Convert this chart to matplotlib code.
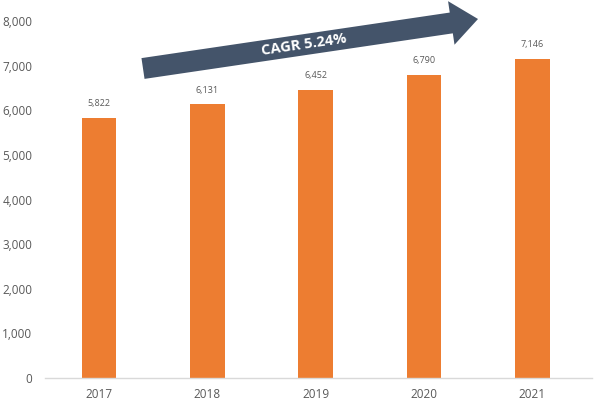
import matplotlib
matplotlib.use("Agg")
import matplotlib.pyplot as plt
from matplotlib.patches import Polygon
from matplotlib.transforms import Affine2D
import numpy as np

years = ["2017", "2018", "2019", "2020", "2021"]
values = [5822, 6131, 6452, 6790, 7146]
yticks = [0, 1000, 2000, 3000, 4000, 5000, 6000, 7000, 8000]
cagr_label = "CAGR 5.24%"

W, H = 599, 411
fig = plt.figure(figsize=(W / 100, H / 100), dpi=100)
ax = fig.add_axes([45 / W, (H - 378) / H, (592 - 45) / W, (378 - 21) / H])

plt.rcParams['font.family'] = ['Open Sans', 'DejaVu Sans']
text_color = "#595959"

x = np.arange(len(years))
ax.bar(x, values, width=0.32, color="#ED7D31", zorder=2)
for xi, v in zip(x, values):
    ax.annotate(f"{v:,}", (xi, v), xytext=(0, 7), textcoords="offset points",
                ha="center", va="bottom", fontsize=6.5, color=text_color,
                family=['Open Sans', 'DejaVu Sans'])

ax.set_xlim(-0.5, 4.55)
ax.set_ylim(0, 8000)
ax.set_xticks(x)
ax.set_xticklabels(years, family=['Open Sans', 'DejaVu Sans'])
ax.set_yticks(yticks)
ax.set_yticklabels([f"{t:,}" for t in yticks], family=['Open Sans', 'DejaVu Sans'])
ax.tick_params(axis="both", length=0, labelsize=8.5, colors=text_color)
ax.tick_params(axis="y", pad=9)
ax.tick_params(axis="x", pad=7)
for s in ["top", "right", "left"]:
    ax.spines[s].set_visible(False)
ax.spines["bottom"].set_color("#D9D9D9")
ax.spines["bottom"].set_linewidth(1)

# Arrow annotation in pixel coordinates (x from left, y from top)
px = Affine2D().scale(1 / W, -1 / H).translate(0, 1) + fig.transFigure
start = np.array([143.0, 68.5])
tip = np.array([478.0, 19.0])
d = tip - start
L = np.hypot(*d)
u = d / L
n = np.array([u[1], -u[0]])  # perpendicular
shaft_w = 21.0
head_w = 44.0
head_len = 27.0
base = tip - u * head_len
pts = [
    start + n * shaft_w / 2,
    base + n * shaft_w / 2,
    base + n * head_w / 2,
    tip,
    base - n * head_w / 2,
    base - n * shaft_w / 2,
    start - n * shaft_w / 2,
]
poly = Polygon(pts, closed=True, transform=px, facecolor="#44546A",
               edgecolor="none", zorder=5)
fig.patches.append(poly)
angle = np.degrees(np.arctan2(-d[1], d[0]))
mid = start + u * (L * 0.48)
fig.text(mid[0] / W, 1 - mid[1] / H, cagr_label, color="white", fontsize=10.5,
         fontweight="bold", rotation=angle, rotation_mode="anchor",
         ha="center", va="center", zorder=6, family=['Open Sans', 'DejaVu Sans'])

fig.savefig("out.png", dpi=100)
